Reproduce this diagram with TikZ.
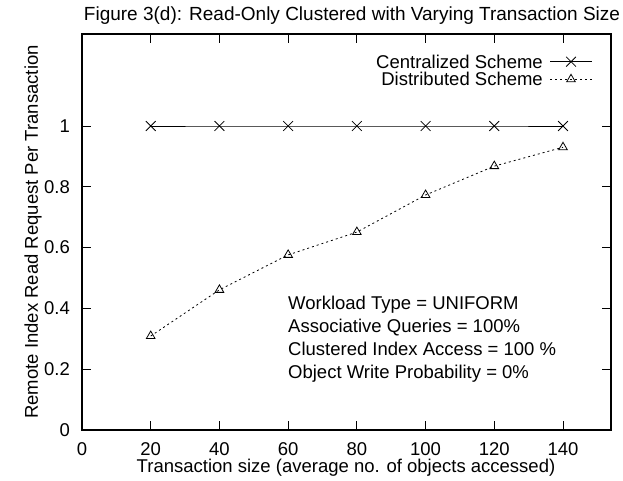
\documentclass[tikz,border=0pt]{standalone}
\usepackage{fontspec}
\setmainfont{Liberation Sans}
\usetikzlibrary{shapes.misc,shapes.geometric}
\begin{document}
\begin{tikzpicture}[x=1pt,y=1pt,
  lbl/.style={inner sep=0pt,font=\fontsize{18.5}{22}\selectfont},
  frame/.style={line width=1.3pt},
  tickmark/.style={line width=0.8pt},
  cenline/.style={line width=0.8pt},
  disline/.style={line width=0.8pt,dash pattern=on 2pt off 3pt},
  cmark/.style={cross out,draw,line width=0.8pt,minimum size=9pt,inner sep=0pt},
  dmark/.style={regular polygon,regular polygon sides=3,draw,line width=0.8pt,minimum size=10pt,inner sep=0pt}]
\useasboundingbox (0,0) rectangle (623,481);
\node[lbl,font=\fontsize{19}{22}\selectfont] (title) at (352,465) {Figure 3(d): Read-Only Clustered with Varying Transaction Size};
\node[lbl,rotate=90] (ylab) at (33,249) {Remote Index Read Request Per Transaction};
\node[lbl,anchor=base] (xlab) at (346,8) {Transaction size (average no. of objects accessed)};
\begin{scope}[shift={(82,51)},x=3.4357pt,y=304pt]
  % ticks
  \foreach \v in {20,40,...,140}{
    \draw[tickmark] (\v,0) -- ++(0,9pt);
    \draw[tickmark] (\v,1.3026) -- ++(0,-9pt);
  }
  \foreach \v in {0.2,0.4,0.6,0.8,1}{
    \draw[tickmark] (0,\v) -- ++(9pt,0);
    \draw[tickmark] (154,\v) -- ++(-9pt,0);
  }
  \draw[frame] (0,0) rectangle (154,1.3026);
  % tick labels
  \foreach \v in {0,20,...,140}{
    \node[lbl,anchor=base] at (\v,0) [yshift=-26pt] {\v};
  }
  \foreach \v/\t in {0/0,0.2/0.2,0.4/0.4,0.6/0.6,0.8/0.8,1/1}{
    \node[lbl,anchor=east] at (0,\v) [xshift=-12pt] {\t};
  }
  % data
  \foreach \i/\v in {1/20,2/40,3/60,4/80,5/100,6/120,7/140}{
    \coordinate (c\i) at (\v,1);
  }
  \coordinate (d1) at (20,0.309);
  \coordinate (d2) at (40,0.461);
  \coordinate (d3) at (60,0.576);
  \coordinate (d4) at (80,0.651);
  \coordinate (d5) at (100,0.773);
  \coordinate (d6) at (120,0.868);
  \coordinate (d7) at (140,0.930);
  \draw[cenline] (c1) -- (c2) -- (c3) -- (c4) -- (c5) -- (c6) -- (c7);
  \draw[disline] (d1) -- (d2) -- (d3) -- (d4) -- (d5) -- (d6) -- (d7);
  \foreach \i in {1,...,7}{
    \node[cmark] (cm\i) at (c\i) {};
    \node[dmark] (dm\i) at (d\i) {};
  }
\end{scope}
% legend
\node[lbl,anchor=east] (lc) at (543,419.3) {Centralized Scheme};
\node[lbl,anchor=east] (ld) at (543,401.7) {Distributed Scheme};
\coordinate (lcs) at (550,419.3);
\coordinate (lce) at (592,419.3);
\coordinate (lds) at (550,401.7);
\coordinate (lde) at (592,401.7);
\draw[cenline] (lcs) -- (lce);
\draw[disline] (lds) -- (lde);
\node[cmark] (lcm) at (571,419.3) {};
\node[dmark] (ldm) at (571,401.7) {};
% annotation
\node[lbl,anchor=base west] (n1) at (288,171.5) {Workload Type = UNIFORM};
\node[lbl,anchor=base west] (n2) at (288,148.5) {Associative Queries = 100\%};
\node[lbl,anchor=base west] (n3) at (288,125.5) {Clustered Index Access = 100 \%};
\node[lbl,anchor=base west] (n4) at (288,102.5) {Object Write Probability = 0\%};
\end{tikzpicture}
\end{document}
